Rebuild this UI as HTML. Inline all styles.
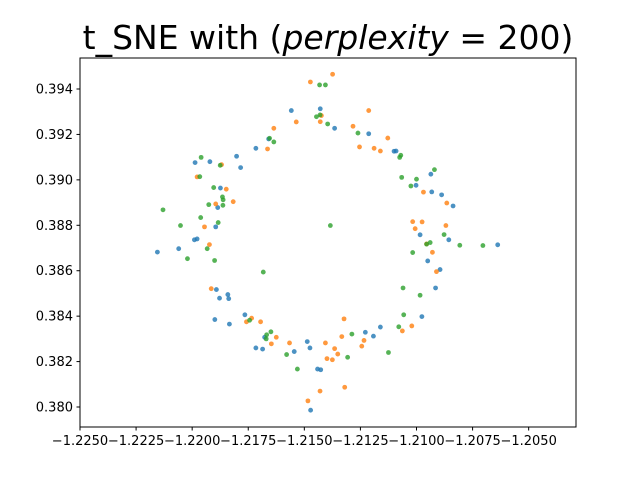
<!DOCTYPE html>
<html><head><meta charset="utf-8"><style>
body{margin:0;background:#fff;}
svg text{font-family:"DejaVu Sans","Liberation Sans",sans-serif;}
</style></head><body>
<svg id="chart" width="640" height="480" xmlns="http://www.w3.org/2000/svg">
<rect width="640" height="480" fill="#fff"/>
<text x="328" y="49" font-size="33" text-anchor="middle">t_SNE with (<tspan font-style="italic">perplexity</tspan> = 200)</text>
<g id="points"></g>
<rect x="80" y="58" width="496" height="369" fill="none" stroke="#000" stroke-width="1"/>
<g id="xticks"></g>
<g id="yticks"></g>
</svg>
<script>
const xTicks=[-1.2250,-1.2225,-1.2200,-1.2175,-1.2150,-1.2125,-1.2100,-1.2075,-1.2050];
const yTicks=[0.380,0.382,0.384,0.386,0.388,0.390,0.392,0.394];
const blueX=[-1.21558,-1.21429,-1.21365,-1.21659,-1.21716,-1.21802,-1.21987,-1.21921,-1.21784,-1.21874,-1.21886,-1.21895,-1.21990,-1.21978,-1.22155,-1.22060,-1.21892,-1.21841,-1.21878,-1.21837,-1.21899,-1.21834,-1.21765,-1.21677,-1.21716,-1.21686,-1.21487,-1.21475,-1.21545,-1.21441,-1.21427,-1.21472,-1.21213,-1.21100,-1.21091,-1.20936,-1.21002,-1.20932,-1.20888,-1.20837,-1.20984,-1.20856,-1.20638,-1.20950,-1.20895,-1.20915,-1.20976,-1.21161,-1.21228,-1.21192];
const blueY=[0.39305,0.39313,0.39227,0.39180,0.39139,0.39104,0.39076,0.39080,0.39054,0.38964,0.38878,0.38793,0.38736,0.38740,0.38682,0.38697,0.38517,0.38495,0.38479,0.38477,0.38385,0.38365,0.38406,0.38307,0.38260,0.38255,0.38288,0.38260,0.38244,0.38167,0.38164,0.37986,0.39203,0.39126,0.39127,0.39025,0.38976,0.38947,0.38934,0.38885,0.38758,0.38736,0.38714,0.38643,0.38605,0.38524,0.38398,0.38352,0.38329,0.38312];
const orangeX=[-1.21374,-1.21473,-1.21424,-1.21536,-1.21429,-1.21636,-1.21664,-1.21869,-1.21978,-1.21848,-1.21817,-1.21895,-1.21945,-1.21923,-1.21915,-1.21735,-1.21758,-1.21695,-1.21625,-1.21647,-1.21566,-1.21406,-1.21365,-1.21351,-1.21399,-1.21375,-1.21430,-1.21484,-1.21213,-1.21283,-1.21128,-1.21254,-1.21189,-1.21161,-1.20969,-1.20865,-1.21017,-1.20975,-1.21006,-1.20869,-1.20955,-1.20929,-1.20911,-1.21323,-1.21021,-1.21063,-1.21333,-1.21234,-1.21244,-1.21320];
const orangeY=[0.39465,0.39431,0.39283,0.39255,0.39256,0.39227,0.39136,0.39067,0.39013,0.38959,0.38904,0.38894,0.38793,0.38715,0.38521,0.38391,0.38375,0.38375,0.38307,0.38278,0.38282,0.38282,0.38257,0.38233,0.38213,0.38208,0.38070,0.38027,0.39305,0.39236,0.39184,0.39145,0.39139,0.39127,0.38946,0.38898,0.38816,0.38815,0.38785,0.38799,0.38718,0.38681,0.38596,0.38388,0.38357,0.38335,0.38310,0.38293,0.38268,0.38087];
const greenX=[-1.21432,-1.21406,-1.21446,-1.21430,-1.21396,-1.21655,-1.21636,-1.21960,-1.21875,-1.21966,-1.21904,-1.21865,-1.21862,-1.21926,-1.21863,-1.22130,-1.21962,-1.22052,-1.21884,-1.21384,-1.21933,-1.22021,-1.21900,-1.21683,-1.21744,-1.21649,-1.21668,-1.21670,-1.21579,-1.21531,-1.21261,-1.21070,-1.21075,-1.20920,-1.21066,-1.21000,-1.21025,-1.20877,-1.20955,-1.20939,-1.20807,-1.20704,-1.21017,-1.21060,-1.20984,-1.21057,-1.21079,-1.21288,-1.21307,-1.21125];
const greenY=[0.39418,0.39418,0.39278,0.39286,0.39246,0.39183,0.39167,0.39099,0.39064,0.39014,0.38966,0.38925,0.38912,0.38891,0.38888,0.38868,0.38834,0.38799,0.38812,0.38799,0.38697,0.38653,0.38645,0.38594,0.38382,0.38331,0.38318,0.38300,0.38231,0.38167,0.39206,0.39108,0.39099,0.39045,0.39011,0.39003,0.38973,0.38759,0.38717,0.38724,0.38712,0.38711,0.38680,0.38524,0.38492,0.38406,0.38353,0.38321,0.38219,0.38240];

const NS='http://www.w3.org/2000/svg';
const X0=-1.2250,X1=-1.20289,PX0=80,PX1=576;
const Y0=0.37912,Y1=0.395365,PY0=427,PY1=58;
function sx(v){return PX0+(v-X0)/(X1-X0)*(PX1-PX0);}
function sy(v){return PY0-(v-Y0)/(Y1-Y0)*(PY0-PY1);}

const pts=document.getElementById('points');
function series(xs,ys,color,name){
  const g=document.createElementNS(NS,'g');
  
  
  for(let i=0;i<xs.length;i++){
    const c=document.createElementNS(NS,'circle');
    
    
    c.setAttribute('cx',sx(xs[i]));c.setAttribute('cy',sy(ys[i]));
    c.setAttribute('r',2.4);c.setAttribute('fill',color);c.setAttribute('fill-opacity',0.8);
    g.appendChild(c);
  }
  pts.appendChild(g);
}
series(blueX,blueY,'#1f77b4','series-blue');
series(orangeX,orangeY,'#ff7f0e','series-orange');
series(greenX,greenY,'#2ca02c','series-green');

const xg=document.getElementById('xticks');
xTicks.forEach(v=>{
  const x=sx(v);
  const l=document.createElementNS(NS,'line');
  
  
  l.setAttribute('x1',x);l.setAttribute('x2',x);l.setAttribute('y1',427);l.setAttribute('y2',430.5);l.setAttribute('stroke','#000');
  xg.appendChild(l);
  const t=document.createElementNS(NS,'text');
  
  
  t.setAttribute('x',x);t.setAttribute('y',445);t.setAttribute('font-size','13');t.setAttribute('text-anchor','middle');
  t.textContent='\u2212'+Math.abs(v).toFixed(4);
  xg.appendChild(t);
});
const yg=document.getElementById('yticks');
yTicks.forEach(v=>{
  const y=sy(v);
  const l=document.createElementNS(NS,'line');
  
  
  l.setAttribute('x1',76.5);l.setAttribute('x2',80);l.setAttribute('y1',y);l.setAttribute('y2',y);l.setAttribute('stroke','#000');
  yg.appendChild(l);
  const t=document.createElementNS(NS,'text');
  
  
  t.setAttribute('x',73);t.setAttribute('y',y+4.5);t.setAttribute('font-size','13');t.setAttribute('text-anchor','end');
  t.textContent=v.toFixed(3);
  yg.appendChild(t);
});
</script>
</body></html>
